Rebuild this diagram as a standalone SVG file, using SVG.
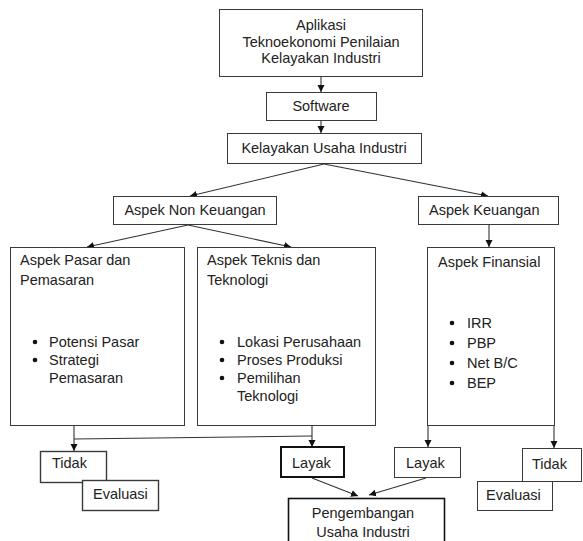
<svg xmlns="http://www.w3.org/2000/svg" width="583" height="541" viewBox="0 0 583 541">
<defs>
<style>
.box{fill:#fff;stroke:#3a3a3a;stroke-width:1}
.bold{fill:#fff;stroke:#111;stroke-width:2}
.t{font-family:"Liberation Sans",Arial,sans-serif;font-size:14.5px;fill:#222}
.c{text-anchor:middle}
.ln{fill:none;stroke:#333;stroke-width:1.1}
.ar{marker-end:url(#ah)}
</style>
<marker id="ah" markerWidth="8" markerHeight="8" refX="7" refY="4" orient="auto" markerUnits="userSpaceOnUse">
<path d="M0,0.5 L7,4 L0,7.5 Z" fill="#111"/>
</marker>
</defs>
<rect width="583" height="541" fill="#fff"/>

<g id="connectors">
<line class="ln ar" x1="321" y1="77" x2="321" y2="92"/>
<line class="ln ar" x1="321" y1="121" x2="321" y2="133"/>
<line class="ln ar" x1="324" y1="164" x2="190" y2="196"/>
<line class="ln ar" x1="324" y1="164" x2="488" y2="196"/>
<line class="ln ar" x1="188" y1="225" x2="87" y2="247"/>
<line class="ln ar" x1="188" y1="225" x2="291" y2="247"/>
<line class="ln ar" x1="489" y1="225" x2="489" y2="247"/>
<line class="ln ar" x1="74" y1="426" x2="74" y2="451"/>
<line class="ln" x1="74" y1="439" x2="312" y2="436"/>
<line class="ln ar" x1="312" y1="426" x2="312" y2="447"/>
<line class="ln ar" x1="428" y1="426" x2="428" y2="447"/>
<line class="ln ar" x1="554" y1="426" x2="554" y2="448"/>
<line class="ln ar" x1="312" y1="478" x2="358" y2="496"/>
<line class="ln ar" x1="426" y1="478" x2="369" y2="495"/>
</g>

<g id="aplikasi">
<rect class="box" x="219.5" y="9.5" width="203" height="67"/>
<text class="t c" x="321" y="30">Aplikasi</text>
<text class="t c" x="321" y="47">Teknoekonomi Penilaian</text>
<text class="t c" x="321" y="63">Kelayakan Industri</text>
</g>

<g id="software">
<rect class="box" x="266.5" y="92.5" width="110" height="28"/>
<text class="t c" x="321" y="111">Software</text>
</g>

<g id="kelayakan">
<rect class="box" x="227.5" y="133.5" width="194" height="30"/>
<text class="t c" x="324" y="153">Kelayakan Usaha Industri</text>
</g>

<g id="non-keuangan">
<rect class="box" x="113.5" y="196.5" width="163" height="28"/>
<text class="t c" x="195" y="215">Aspek Non Keuangan</text>
</g>

<g id="keuangan">
<rect class="box" x="418.5" y="196.5" width="140" height="28"/>
<text class="t" x="429" y="215">Aspek Keuangan</text>
</g>

<g id="pasar">
<rect class="box" x="10.5" y="247.5" width="174" height="178"/>
<text class="t" x="20" y="265">Aspek Pasar dan</text>
<text class="t" x="20" y="285">Pemasaran</text>
<circle cx="35" cy="342" r="2.3" fill="#111"/>
<text class="t" x="49" y="347">Potensi Pasar</text>
<circle cx="35" cy="360" r="2.3" fill="#111"/>
<text class="t" x="49" y="365">Strategi</text>
<text class="t" x="49" y="383">Pemasaran</text>
</g>

<g id="teknis">
<rect class="box" x="197.5" y="247.5" width="178" height="178"/>
<text class="t" x="207" y="265">Aspek Teknis dan</text>
<text class="t" x="207" y="285">Teknologi</text>
<circle cx="222" cy="342" r="2.3" fill="#111"/>
<text class="t" x="237" y="347">Lokasi Perusahaan</text>
<circle cx="222" cy="360" r="2.3" fill="#111"/>
<text class="t" x="237" y="365">Proses Produksi</text>
<circle cx="222" cy="378" r="2.3" fill="#111"/>
<text class="t" x="237" y="383">Pemilihan</text>
<text class="t" x="237" y="401">Teknologi</text>
</g>

<g id="finansial">
<rect class="box" x="427.5" y="247.5" width="127" height="178"/>
<text class="t" x="438" y="267">Aspek Finansial</text>
<circle cx="452" cy="323" r="2.3" fill="#111"/>
<text class="t" x="467" y="328">IRR</text>
<circle cx="452" cy="343" r="2.3" fill="#111"/>
<text class="t" x="467" y="348">PBP</text>
<circle cx="452" cy="363" r="2.3" fill="#111"/>
<text class="t" x="467" y="368">Net B/C</text>
<circle cx="452" cy="383" r="2.3" fill="#111"/>
<text class="t" x="467" y="388">BEP</text>
</g>

<g id="tidak-1">
<rect class="box" x="40.5" y="451.5" width="66" height="31" style="stroke-width:1.4"/>
<text class="t" x="52" y="468">Tidak</text>
</g>

<g id="evaluasi-1">
<rect class="box" x="82.5" y="480.5" width="76" height="30" style="stroke-width:1.4"/>
<text class="t" x="93" y="499">Evaluasi</text>
</g>

<g id="layak-1">
<rect class="bold" x="281" y="447" width="63" height="30"/>
<text class="t" x="292" y="468">Layak</text>
</g>

<g id="layak-2">
<rect class="box" x="394.5" y="447.5" width="66" height="30"/>
<text class="t" x="406" y="468">Layak</text>
</g>

<g id="tidak-2">
<rect class="box" x="522.5" y="448.5" width="59" height="33"/>
<text class="t" x="532" y="469">Tidak</text>
</g>

<g id="evaluasi-2">
<rect class="box" x="477.5" y="481.5" width="75" height="29"/>
<text class="t" x="486" y="500">Evaluasi</text>
</g>

<g id="pengembangan">
<rect class="box" x="288.5" y="498.5" width="156" height="50" style="stroke:#111;stroke-width:1.6"/>
<text class="t c" x="363" y="518">Pengembangan</text>
<text class="t c" x="363" y="537">Usaha Industri</text>
</g>
</svg>
